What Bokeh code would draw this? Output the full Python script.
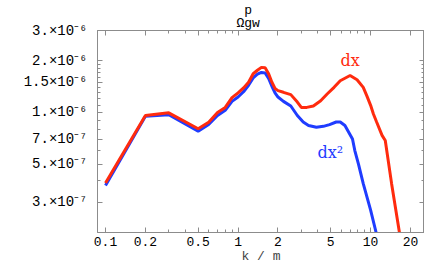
from bokeh.plotting import figure
from bokeh.models import FixedTicker, LogAxis, Label, Range1d
from bokeh.embed import file_html
from bokeh.resources import INLINE

# --- data ---
k_dx = [0.1, 0.2, 0.3, 0.5, 0.6, 0.7, 0.8, 0.9, 1.0, 1.1, 1.2, 1.3, 1.4, 1.5, 1.6,
        1.7, 1.8, 1.9, 2.0, 2.2, 2.5, 2.8, 3.0, 3.3, 3.7, 4.2, 4.7, 5.3, 5.9, 7.0,
        7.9, 8.8, 9.4, 10.0, 10.5, 11.1, 12.2, 12.9, 14.4, 16.5, 18.0]
omega_dx = [0.388e-6, 0.96e-6, 0.995e-6, 0.804e-6, 0.878e-6, 1.00e-6, 1.07e-6, 1.22e-6,
            1.30e-6, 1.39e-6, 1.50e-6, 1.68e-6, 1.76e-6, 1.83e-6, 1.82e-6, 1.68e-6,
            1.50e-6, 1.38e-6, 1.34e-6, 1.31e-6, 1.27e-6, 1.15e-6, 1.07e-6, 1.07e-6,
            1.09e-6, 1.17e-6, 1.28e-6, 1.40e-6, 1.53e-6, 1.64e-6, 1.55e-6, 1.40e-6,
            1.24e-6, 1.10e-6, 0.98e-6, 0.88e-6, 0.735e-6, 0.687e-6, 0.385e-6, 0.20e-6,
            0.13e-6]

k_dx2 = [0.1, 0.2, 0.3, 0.5, 0.6, 0.7, 0.8, 0.9, 1.0, 1.1, 1.2, 1.3, 1.4, 1.5, 1.6,
         1.7, 1.8, 1.9, 2.0, 2.2, 2.5, 2.8, 3.1, 3.4, 3.9, 4.4, 4.9, 5.5, 5.9, 6.4,
         7.3, 7.6, 8.1, 8.8, 10.0, 11.0, 11.5]
omega_dx2 = [0.376e-6, 0.95e-6, 0.97e-6, 0.778e-6, 0.85e-6, 0.96e-6, 1.03e-6, 1.16e-6,
             1.23e-6, 1.32e-6, 1.44e-6, 1.59e-6, 1.67e-6, 1.71e-6, 1.70e-6, 1.58e-6,
             1.42e-6, 1.30e-6, 1.23e-6, 1.16e-6, 1.09e-6, 0.96e-6, 0.88e-6, 0.84e-6,
             0.82e-6, 0.83e-6, 0.85e-6, 0.88e-6, 0.88e-6, 0.84e-6, 0.70e-6, 0.60e-6,
             0.50e-6, 0.385e-6, 0.27e-6, 0.20e-6, 0.17e-6]

x_major = [0.1, 0.2, 0.5, 1, 2, 5, 10, 20]
x_minor = [0.3, 0.4, 0.6, 0.7, 0.8, 0.9, 3, 4, 6, 7, 8, 9]
x_labels = ["0.1", "0.2", "0.5", "1", "2", "5", "10", "20"]

y_major = [3e-7, 5e-7, 7e-7, 1e-6, 1.5e-6, 2e-6, 3e-6]
y_minor = [4e-7, 6e-7, 8e-7, 9e-7, 1.1e-6, 1.2e-6, 1.3e-6, 1.4e-6,
           1.6e-6, 1.7e-6, 1.8e-6, 1.9e-6]
y_labels = ["3.×10⁻⁷", "5.×10⁻⁷", "7.×10⁻⁷", "1.×10⁻⁶", "1.5×10⁻⁶", "2.×10⁻⁶", "3.×10⁻⁶"]

title_text = "\u00a0p\u00a0\nΩgw"

RED = "#ff2b0e"
BLUE = "#1f3cff"
GRAY = "#8c8c8c"
MONO = "Liberation Mono"

p = figure(frame_width=327, frame_height=202, x_axis_type="log", y_axis_type="log",
           x_range=Range1d(0.087, 25.5), y_range=Range1d(2.0e-7, 3.0e-6),
           output_backend="svg", toolbar_location=None,
           min_border_left=97, min_border_right=0, min_border_top=30, min_border_bottom=0)
p.background_fill_color = "white"
p.border_fill_color = "white"
p.outline_line_color = GRAY
p.grid.visible = False

p.title.text = title_text
p.title.align = "left"
p.title.offset = 139
p.title.standoff = 0
p.title.text_font = MONO
p.title.text_font_size = "13px"
p.title.text_font_style = "normal"
p.title.text_color = "black"
p.title.text_line_height = 0.85

def style(ax, ticker):
    ax.ticker = ticker
    ax.axis_line_color = GRAY
    ax.major_tick_line_color = GRAY
    ax.minor_tick_line_color = GRAY
    ax.major_tick_in = 5
    ax.major_tick_out = 0
    ax.minor_tick_in = 3
    ax.minor_tick_out = 0

style(p.xaxis[0], FixedTicker(ticks=x_major, minor_ticks=x_minor))
style(p.yaxis[0], FixedTicker(ticks=y_major, minor_ticks=y_minor))
p.xaxis[0].major_label_overrides = dict(zip(x_major, x_labels))
p.yaxis[0].major_label_overrides = dict(zip(y_major, y_labels))
for ax in (p.xaxis[0], p.yaxis[0]):
    ax.major_label_text_font = MONO
    ax.major_label_text_color = "black"
p.xaxis[0].major_label_text_font_size = "13px"
p.yaxis[0].major_label_text_font_size = "14px"
p.xaxis[0].major_label_standoff = 4
p.yaxis[0].major_label_standoff = 10
p.xaxis[0].axis_label = "k / m"
p.xaxis[0].axis_label_text_font = MONO
p.xaxis[0].axis_label_text_font_size = "13px"
p.xaxis[0].axis_label_text_font_style = "normal"
p.xaxis[0].axis_label_standoff = 0

top = LogAxis()
right = LogAxis()
style(top, FixedTicker(ticks=x_major, minor_ticks=x_minor))
style(right, FixedTicker(ticks=y_major, minor_ticks=y_minor))
top.major_label_overrides = {t: "" for t in x_major}
right.major_label_overrides = {t: "" for t in y_major}
for ax in (top, right):
    ax.major_label_standoff = 0
p.add_layout(top, "above")
p.add_layout(right, "right")

p.line(k_dx2, omega_dx2, line_color=BLUE, line_width=3)
p.line(k_dx, omega_dx, line_color=RED, line_width=3)

p.add_layout(Label(x=7.0, y=2.0e-6, text="dx", text_color=RED,
                   text_font="DejaVu Serif", text_font_size="16px",
                   text_align="center", text_baseline="middle"))
p.add_layout(Label(x=4.96, y=5.85e-7, text="dx²", text_color=BLUE,
                   text_font="DejaVu Serif", text_font_size="16px",
                   text_align="center", text_baseline="middle"))

open("out.html", "w").write(file_html(p, INLINE))
